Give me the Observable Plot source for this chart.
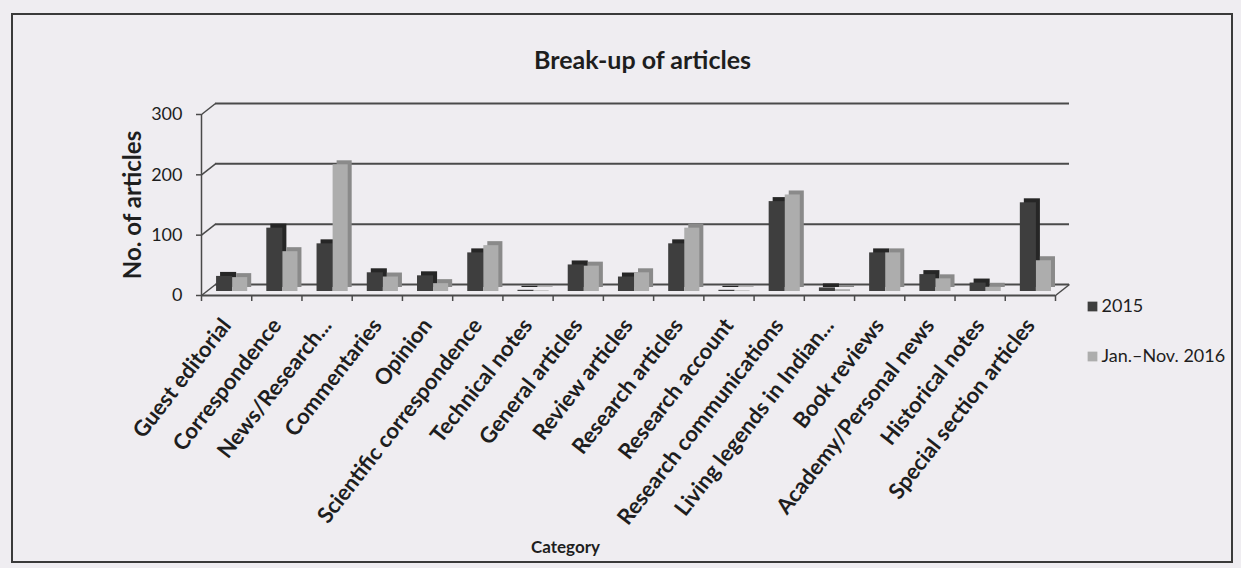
<!DOCTYPE html>
<html><head><meta charset="utf-8">
<script src="https://cdn.jsdelivr.net/npm/d3@7"></script>
<script src="https://cdn.jsdelivr.net/npm/@observablehq/plot@0.6"></script>
<style>
body{margin:0;background:#efedf1;}
#wrap{position:relative;width:1241px;height:568px;overflow:hidden;}
#border{position:absolute;left:11px;top:13px;width:1218px;height:546px;border:2px solid #3a3a3a;pointer-events:none;}
</style></head><body>
<div id="wrap"><div id="border"></div></div>
<script>
const categories = ["Guest editorial","Correspondence","News/Research...","Commentaries","Opinion",
  "Scientific correspondence","Technical notes","General articles","Review articles","Research articles",
  "Research account","Research communications","Living legends in Indian...","Book reviews",
  "Academy/Personal news","Historical notes","Special section articles"];
const seriesNames = ["2015", "Jan.–Nov. 2016"];
const values2015 = [25, 105, 79, 31, 26, 64, 2, 44, 24, 79, 2, 149, 6, 64, 28, 14, 147];
const values2016 = [23, 66, 210, 24, 13, 76, 1, 42, 31, 105, 1, 160, 3, 64, 21, 7, 51];
const yTicks = [0, 100, 200, 300];

const W = 1241, H = 568, mL = 201, mR = 186, mT = 114, mB = 273;
const n = categories.length;
const pxX = (W - mL - mR) / n;
const pxY = (H - mT - mB) / 300;
const depthX = 14, depthY = 11;
const gridColor = "#4a4a4a";
const ink = "#1e1e1e";
const darkFront = "#3e3e3e", darkSide = "#262626";
const lightFront = "#adadad", lightSide = "#8a8a8a";

const rows = categories.map((c, i) => ({i, c, a: values2015[i], b: values2016[i]}));

const chart = Plot.plot({
  width: W, height: H,
  marginLeft: mL, marginRight: mR, marginTop: mT, marginBottom: mB,
  style: {fontFamily: "Lato, 'Open Sans', sans-serif", fontSize: "22px", fontWeight: "bold", color: ink, background: "transparent", overflow: "visible"},
  x: {domain: [0, n], ticks: d3.range(n).map(i => i + 0.5), tickFormat: v => categories[Math.floor(v)],
      tickRotate: -52, tickSize: 0, tickPadding: 26, label: null},
  y: {domain: [0, 300], axis: null},
  marks: [
    Plot.ruleY(yTicks, {x1: 0, x2: n, dx: depthX, dy: -depthY, stroke: gridColor, strokeWidth: 2}),
    Plot.link(yTicks, {x1: 0, y1: d => d, x2: depthX / pxX, y2: d => d + depthY / pxY, stroke: gridColor, strokeWidth: 1.5}),
    Plot.link([n], {x1: d => d, y1: 0, x2: d => d + depthX / pxX, y2: depthY / pxY, stroke: gridColor, strokeWidth: 1.5}),
    Plot.rectY(rows, {x1: d => d.i + 0.30, x2: d => d.i + 0.62, y: "a", fill: darkSide, dx: 4, dy: -8}),
    Plot.rectY(rows, {x1: d => d.i + 0.30, x2: d => d.i + 0.62, y: "a", fill: darkFront, dy: -4}),
    Plot.rectY(rows, {x1: d => d.i + 0.62, x2: d => d.i + 0.92, y: "b", fill: lightSide, dx: 4, dy: -8}),
    Plot.rectY(rows, {x1: d => d.i + 0.62, x2: d => d.i + 0.92, y: "b", fill: lightFront, dy: -4}),
    Plot.ruleY([0], {x1: 0, x2: n, stroke: gridColor, strokeWidth: 2}),
    Plot.ruleX([0], {y1: 0, y2: 300, stroke: gridColor, strokeWidth: 1.5}),
    Plot.ruleX(d3.range(n + 1), {y1: 0, y2: -6 / pxY, stroke: gridColor, strokeWidth: 1.5}),
    Plot.ruleY(yTicks, {x1: 0, x2: -5 / pxX, stroke: gridColor, strokeWidth: 1.5}),
    Plot.text(yTicks, {x: 0, y: d => d, dx: -19, textAnchor: "end", fontSize: 18, fontWeight: "normal", fill: ink}),
    Plot.text(["Break-up of articles"], {frameAnchor: "top", lineAnchor: "middle", dx: 14, dy: -54, fontSize: 25, fontWeight: "bold", fill: ink}),
    Plot.text(["Category"], {frameAnchor: "bottom", lineAnchor: "middle", dx: -63, dy: 252, fontSize: 17, fontWeight: "bold", fill: ink}),
    Plot.text(["No. of articles"], {frameAnchor: "left", textAnchor: "middle", lineAnchor: "middle", dx: -68, rotate: -90, fontSize: 24, fontWeight: "bold", fill: ink}),
    Plot.dot([seriesNames[0]], {frameAnchor: "top-right", dx: 37, dy: 192, symbol: "square", r: 5.5, fill: darkFront}),
    Plot.dot([seriesNames[1]], {frameAnchor: "top-right", dx: 37, dy: 242, symbol: "square", r: 5.5, fill: lightFront}),
    Plot.text([seriesNames[0]], {frameAnchor: "top-right", lineAnchor: "middle", dx: 46, dy: 192, textAnchor: "start", fontSize: 18, fontWeight: "normal", fill: ink}),
    Plot.text([seriesNames[1]], {frameAnchor: "top-right", lineAnchor: "middle", dx: 46, dy: 242, textAnchor: "start", fontSize: 18, fontWeight: "normal", fill: ink})
  ]
});
document.getElementById("wrap").appendChild(chart);
chart.style.position = "absolute";
chart.style.left = "0"; chart.style.top = "0";
</script>
</body></html>
